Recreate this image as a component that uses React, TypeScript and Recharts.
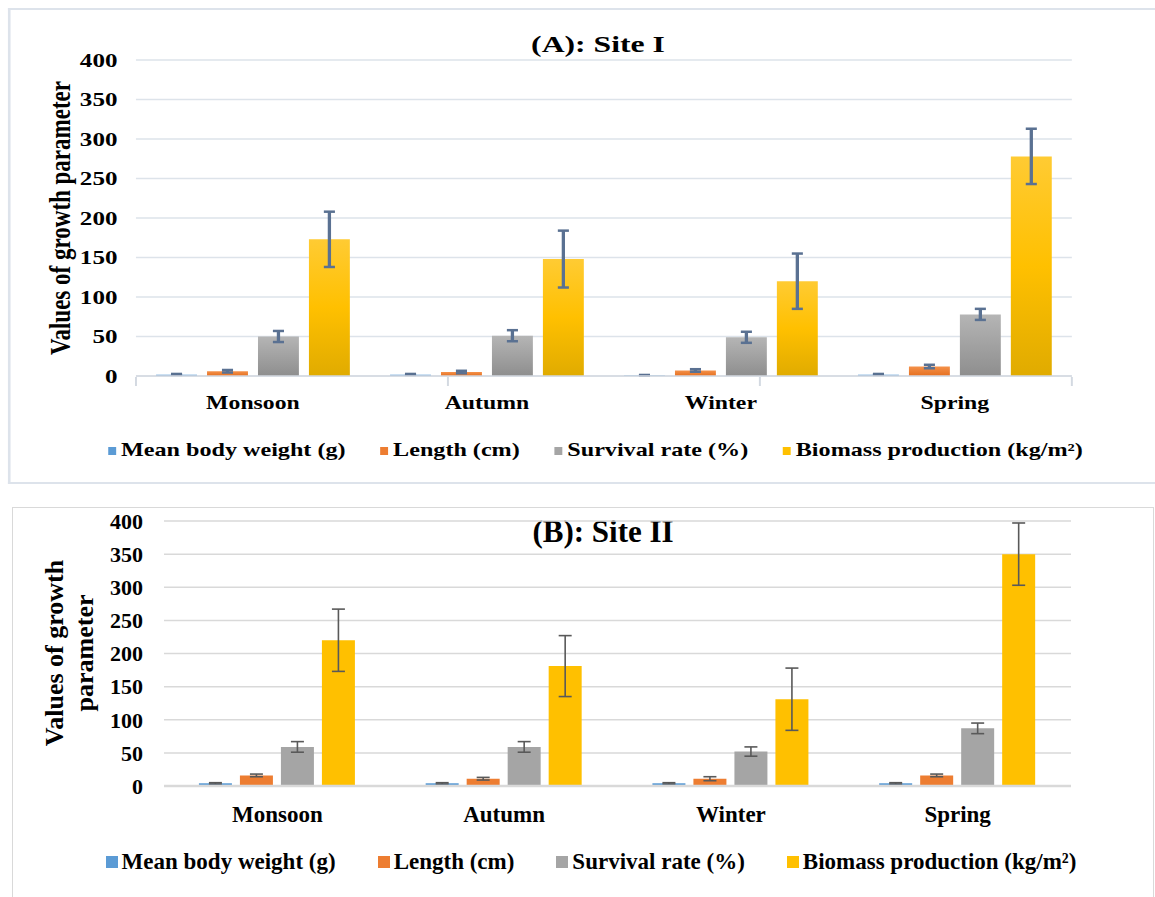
import { BarChart, Bar, XAxis, YAxis, CartesianGrid, ErrorBar, Legend } from "recharts";

const seasons = ["Monsoon", "Autumn", "Winter", "Spring"];
const seriesNames = ["Mean body weight (g)", "Length (cm)", "Survival rate (%)", "Biomass production (kg/m²)"];
const yTicks = [0, 50, 100, 150, 200, 250, 300, 350, 400];

// Site I
const weightI = [2, 2, 1, 2];
const weightErrI = [0.6, 0.6, 0.3, 0.6];
const lengthI = [6, 5, 7, 12];
const lengthErrI = [1.6, 1.6, 1.6, 2.2];
const survivalI = [50, 51, 49, 78];
const survivalErrI = [7, 7, 7, 7];
const biomassI = [173, 148, 120, 278];
const biomassErrI = [35, 36, 35, 35];

// Site II
const weightII = [4, 4, 4, 4];
const weightErrII = [1, 1, 1, 1];
const lengthII = [16, 11, 11, 16];
const lengthErrII = [2, 2, 3, 2];
const survivalII = [59, 59, 52, 87];
const survivalErrII = [8, 8, 7, 8];
const biomassII = [220, 181, 131, 350];
const biomassErrII = [47, 46, 47, 47];

const legendColors = ["#5B9BD5", "#ED7D31", "#A5A5A5", "#FFC000"];
const FONT = '"Liberation Serif", "Times New Roman", serif';

const buildRows = (w: number[], we: number[], l: number[], le: number[], s: number[], se: number[], b: number[], be: number[]) =>
  seasons.map((season, i) => ({
    season,
    weight: w[i],
    weightErr: we[i],
    length: l[i],
    lengthErr: le[i],
    survival: s[i],
    survivalErr: se[i],
    biomass: b[i],
    biomassErr: be[i],
  }));

const siteI = buildRows(weightI, weightErrI, lengthI, lengthErrI, survivalI, survivalErrI, biomassI, biomassErrI);
const siteII = buildRows(weightII, weightErrII, lengthII, lengthErrII, survivalII, survivalErrII, biomassII, biomassErrII);

function LegendRow({ fontSize, markerW, markerH, textGap, gap }: any) {
  return (
    <div style={{ display: "flex", justifyContent: "center", alignItems: "center", fontFamily: FONT, fontWeight: "bold", fontSize, whiteSpace: "nowrap", color: "#000" }}>
      {seriesNames.map((name, i) => (
        <div key={name} style={{ display: "flex", alignItems: "center", marginRight: i < seriesNames.length - 1 ? gap : 0 }}>
          <span style={{ display: "inline-block", width: markerW, height: markerH, background: legendColors[i], marginRight: textGap }} />
          <span>{name}</span>
        </div>
      ))}
    </div>
  );
}

const categoryTick = (fontSize: number, dy: number) => (props: any) => (
  <text x={props.x} y={props.y + dy} textAnchor="middle" dominantBaseline="central" fontFamily={FONT} fontWeight="bold" fontSize={fontSize} fill="#000">
    {props.payload.value}
  </text>
);

const emptyTick = () => <g />;

function SiteOne() {
  // drawn narrow, then stretched horizontally like the reference image
  return (
    <div style={{ position: "absolute", left: 0, top: 0, width: 875, height: 490, transform: "scaleX(1.32)", transformOrigin: "0 0" }}>
      <div style={{ position: "absolute", left: 6, top: 8, width: 900, height: 472, border: "2px solid #DDE3EB", borderRight: "none" }} />
      <div style={{ position: "absolute", left: 353, top: 30, width: 200, textAlign: "center", fontFamily: FONT, fontWeight: "bold", fontSize: 24, lineHeight: "28px" }}>
        (A): Site I
      </div>
      <div style={{ position: "absolute", left: 45.5, top: 218, transform: "translate(-50%, -50%) rotate(-90deg)", whiteSpace: "nowrap", fontFamily: FONT, fontWeight: "bold", fontSize: 23 }}>
        Values of growth parameter
      </div>
      <BarChart width={875} height={490} data={siteI} margin={{ top: 60, right: 63, bottom: 112, left: 43 }} barCategoryGap="8.6%" barGap={7.6}>
        <defs>
          <linearGradient id="gBlue" x1="0" y1="0" x2="0" y2="1">
            <stop offset="0%" stopColor="#9DC3E6" />
            <stop offset="100%" stopColor="#5B9BD5" />
          </linearGradient>
          <linearGradient id="gOrange" x1="0" y1="0" x2="0" y2="1">
            <stop offset="0%" stopColor="#F4914A" />
            <stop offset="100%" stopColor="#E56F1F" />
          </linearGradient>
          <linearGradient id="gGray" x1="0" y1="0" x2="0" y2="1">
            <stop offset="0%" stopColor="#B5B5B5" />
            <stop offset="100%" stopColor="#8E8E8E" />
          </linearGradient>
          <linearGradient id="gYellow" x1="0" y1="0" x2="0" y2="1">
            <stop offset="0%" stopColor="#FFCB33" />
            <stop offset="50%" stopColor="#FFC000" />
            <stop offset="100%" stopColor="#E0AB00" />
          </linearGradient>
        </defs>
        <CartesianGrid vertical={false} stroke="#DDE3EA" strokeWidth={1.5} />
        <XAxis dataKey="season" height={1} interval={0} tickLine={false} axisLine={{ stroke: "#D3D9E1", strokeWidth: 1.5 }} tick={categoryTick(18, 19)} />
        <XAxis xAxisId="div" type="number" domain={[0, 4]} ticks={[0, 1, 2, 3, 4]} interval={0} tick={emptyTick} axisLine={false} tickLine={{ stroke: "#D3D9E1", strokeWidth: 1.5 }} tickSize={9} height={1} allowDataOverflow />
        <YAxis type="number" domain={[0, 400]} ticks={yTicks} width={60} axisLine={false} tickLine={false} tickSize={0} tickMargin={14} tick={{ fill: "#000", fontSize: 19, fontWeight: "bold", fontFamily: FONT }} />
        <Legend verticalAlign="middle" wrapperStyle={{ top: 440, left: 0, width: 902 }} content={() => <LegendRow fontSize={18.3} markerW={6} markerH={8} textGap={4} gap={26} />} />
        <Bar dataKey="weight" name={seriesNames[0]} fill="url(#gBlue)" isAnimationActive={false}>
          <ErrorBar dataKey="weightErr" width={4.2} stroke="#5A7192" strokeWidth={2.5} direction="y" />
        </Bar>
        <Bar dataKey="length" name={seriesNames[1]} fill="url(#gOrange)" isAnimationActive={false}>
          <ErrorBar dataKey="lengthErr" width={4.2} stroke="#5A7192" strokeWidth={2.5} direction="y" />
        </Bar>
        <Bar dataKey="survival" name={seriesNames[2]} fill="url(#gGray)" isAnimationActive={false}>
          <ErrorBar dataKey="survivalErr" width={4.2} stroke="#5A7192" strokeWidth={2.5} direction="y" />
        </Bar>
        <Bar dataKey="biomass" name={seriesNames[3]} fill="url(#gYellow)" isAnimationActive={false}>
          <ErrorBar dataKey="biomassErr" width={4.2} stroke="#5A7192" strokeWidth={2.5} direction="y" />
        </Bar>
      </BarChart>
    </div>
  );
}

function SiteTwo() {
  return (
    <div style={{ position: "absolute", left: 0, top: 490, width: 1155, height: 407 }}>
      <div style={{ position: "absolute", left: 12, top: 17, width: 1140, height: 400, border: "1px solid #D9D9D9", borderBottom: "none" }} />
      <div style={{ position: "absolute", left: 453, top: 25, width: 300, textAlign: "center", fontFamily: FONT, fontWeight: "bold", fontSize: 31, lineHeight: "34px" }}>
        (B): Site II
      </div>
      <div style={{ position: "absolute", left: 70, top: 163, transform: "translate(-50%, -50%) rotate(-90deg)", whiteSpace: "nowrap", textAlign: "center", fontFamily: FONT, fontWeight: "bold", fontSize: 26, lineHeight: "30px" }}>
        Values of growth
        <br />
        parameter
      </div>
      <BarChart width={1155} height={407} data={siteII} margin={{ top: 31, right: 84, bottom: 110, left: 94 }} barCategoryGap="15.4%" barGap={8}>
        <CartesianGrid vertical={false} stroke="#D9D9D9" strokeWidth={1.5} />
        <XAxis dataKey="season" height={1} interval={0} tickLine={false} axisLine={{ stroke: "#D9D9D9", strokeWidth: 2.5 }} tick={categoryTick(23, 20)} />
        <YAxis type="number" domain={[0, 400]} ticks={yTicks} width={70} axisLine={false} tickLine={false} tickSize={0} tickMargin={21} tick={{ fill: "#000", fontSize: 22, fontWeight: "bold", fontFamily: FONT }} />
        <Legend verticalAlign="middle" wrapperStyle={{ top: 359, left: 0, width: 1182 }} content={() => <LegendRow fontSize={23} markerW={12} markerH={12} textGap={4} gap={42} />} />
        <Bar dataKey="weight" name={seriesNames[0]} fill="#5B9BD5" isAnimationActive={false}>
          <ErrorBar dataKey="weightErr" width={6.5} stroke="#595959" strokeWidth={1.6} direction="y" />
        </Bar>
        <Bar dataKey="length" name={seriesNames[1]} fill="#ED7D31" isAnimationActive={false}>
          <ErrorBar dataKey="lengthErr" width={6.5} stroke="#595959" strokeWidth={1.6} direction="y" />
        </Bar>
        <Bar dataKey="survival" name={seriesNames[2]} fill="#A5A5A5" isAnimationActive={false}>
          <ErrorBar dataKey="survivalErr" width={6.5} stroke="#595959" strokeWidth={1.6} direction="y" />
        </Bar>
        <Bar dataKey="biomass" name={seriesNames[3]} fill="#FFC000" isAnimationActive={false}>
          <ErrorBar dataKey="biomassErr" width={6.5} stroke="#595959" strokeWidth={1.6} direction="y" />
        </Bar>
      </BarChart>
    </div>
  );
}

export default function App() {
  return (
    <div style={{ position: "absolute", left: 0, top: 0, width: 1155, height: 897, overflow: "hidden", background: "#fff" }}>
      <SiteOne />
      <SiteTwo />
    </div>
  );
}
